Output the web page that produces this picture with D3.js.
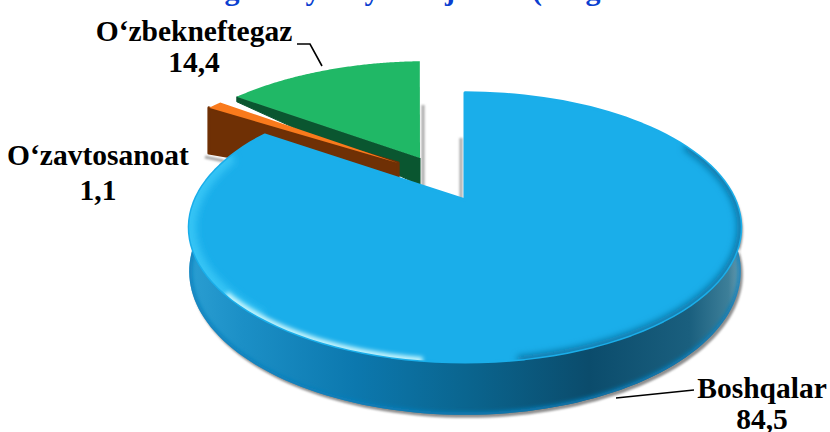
<!DOCTYPE html>
<html>
<head>
<meta charset="utf-8">
<script src="https://cdn.jsdelivr.net/npm/d3@7"></script>
<style>
  html, body { margin: 0; padding: 0; background: #fff; }
  text { font-family: "Liberation Serif", serif; font-weight: bold; fill: #000; }
</style>
</head>
<body>
<div id="chart"></div>
<script>
// data
const names = ["Boshqalar", "O‘zavtosanoat", "O‘zbekneftegaz"];
const shares = [84.5, 1.1, 14.4];
const shareLabels = ["84,5", "1,1", "14,4"];
// only the descenders of the title survive at the top edge of the picture
const titleGlyphs = ["g", "y", "y", "j", "(", "g"];

const width = 830, height = 432;

// per slice layout: shift out of the pie, small turn, radius, wall depth at rim and apex
const shiftX = [0, -0.263, -0.1785];
const shiftY = [0, 0.305, 0.349];
const turn = [0, -0.037, -0.035];
const radius = [1, 1, 1.03];
const wallRim = [42, 53, 6];
const wallApex = [42, 24, 29];
const wallStroke = [0, 3, 1];
const topColors = ["#1aaeea", "#f97a1c", "#20b866"];
const sideColors = ["url(#blueSide)", "#6f3005", "#0a5630"];

// perspective of the pie plane
const cx = 465, cy = 200, sx = 270, sy = 129, persp = 0.204;

const svg = d3.select("#chart").append("svg")
    .attr("width", width).attr("height", height)
    .style("display", "block");

const defs = svg.append("defs");
const grad = defs.append("linearGradient").attr("id", "blueSide")
    .attr("gradientUnits", "userSpaceOnUse")
    .attr("x1", 188).attr("x2", 745).attr("y1", 0).attr("y2", 0);
[[0, "#2a9ed2"], [0.1, "#1b8fc6"], [0.3, "#0c78ae"], [0.5, "#0a658f"], [0.72, "#0b4c6c"], [0.9, "#1a5f7e"], [0.97, "#3d7f99"], [1, "#7fa9b9"]]
    .forEach(s => grad.append("stop").attr("offset", s[0]).attr("stop-color", s[1]));

[["blur3", 3.5], ["blur2", 2], ["blur1", 1.2]].forEach(f => {
    defs.append("filter").attr("id", f[0])
        .attr("filterUnits", "userSpaceOnUse")
        .attr("x", 0).attr("y", 0).attr("width", width).attr("height", height)
        .append("feGaussianBlur").attr("stdDeviation", f[1]);
});

// plane coords -> screen; z is the height below the top surface
function project(x, y, z) {
    const w = 1 + persp * y;
    return [cx + sx * x / w, cy - sy * y / w + z / w];
}

const line = d3.line();
function rimPoint(i, a, z) {
    const t = a + turn[i];
    return project(shiftX[i] + radius[i] * Math.sin(t), shiftY[i] + radius[i] * Math.cos(t), z);
}
function apexPoint(i, z) {
    return project(shiftX[i], shiftY[i], z);
}
function rimArc(i, a0, a1, z) {
    return d3.range(0, 121).map(k => rimPoint(i, a0 + (a1 - a0) * k / 120, z));
}
function topPath(d, i) {
    return line([apexPoint(i, 0), ...rimArc(i, d.startAngle, d.endAngle, 0)]) + "Z";
}
// wall along the radius that faces the viewer on the small slices
function radialWall(d, i) {
    const a = d.startAngle;
    return line([apexPoint(i, 0), rimPoint(i, a, 0), rimPoint(i, a, wallRim[i]), apexPoint(i, wallApex[i])]) + "Z";
}
function outerWall(i, a0, a1) {
    return line([...rimArc(i, a0, a1, 0), ...rimArc(i, a1, a0, wallRim[i])]) + "Z";
}

const arcs = d3.pie().sort(null).value(v => v)
    .startAngle(0).endAngle(2 * Math.PI)(shares);
const blue = arcs[0];
const wallStart = Math.PI * 0.42, wallEnd = Math.PI * 1.6;

// grey shadow under the big slice and behind the gap
const shadow = svg.append("g").attr("filter", "url(#blur1)");
shadow.append("path")
    .attr("d", outerWall(0, wallStart, wallEnd))
    .attr("transform", "translate(2,3)")
    .attr("fill", "#8f8f8f");
const gapEdges = [[423, 105, 423, 187], [461, 138, 461, 199], [205, 157, 224, 161]];
shadow.selectAll("line").data(gapEdges).join("line")
    .attr("x1", d => d[0]).attr("y1", d => d[1]).attr("x2", d => d[2]).attr("y2", d => d[3])
    .attr("stroke", "#a8a8a8").attr("stroke-width", 3);

// green before orange: the orange slice sits over the green wall, big slice covers both
[2, 1].forEach(i => {
    const d = arcs[i];
    svg.append("path").attr("d", radialWall(d, i)).attr("fill", sideColors[i])
        .attr("stroke", sideColors[i]).attr("stroke-linejoin", "round").attr("stroke-width", wallStroke[i]);
    svg.append("path").attr("d", topPath(d, i)).attr("fill", topColors[i]);
});

// big slice: wall, top, then soft bevels along the rim
svg.append("path").attr("d", outerWall(0, wallStart, wallEnd)).attr("fill", "url(#blueSide)");
defs.append("clipPath").attr("id", "wallClip").append("path").attr("d", outerWall(0, wallStart, wallEnd));
svg.append("g").attr("clip-path", "url(#wallClip)")
    .append("path")
    .attr("d", line(rimArc(0, wallStart, wallEnd, wallRim[0])))
    .attr("fill", "none").attr("stroke", "#0a7fbb").attr("stroke-width", 5)
    .attr("filter", "url(#blur2)");

svg.append("path").attr("d", topPath(blue, 0))
    .attr("fill", topColors[0]).attr("stroke", topColors[0]).attr("stroke-width", 3).attr("stroke-linejoin", "round");
defs.append("clipPath").attr("id", "blueTop").append("path").attr("d", topPath(blue, 0));
const bevel = svg.append("g").attr("clip-path", "url(#blueTop)");
bevel.append("path")
    .attr("d", line(rimArc(0, Math.PI * 0.35, Math.PI * 0.95, 0)))
    .attr("fill", "none").attr("stroke", "#0c6f9f").attr("stroke-width", 7)
    .attr("filter", "url(#blur3)");
bevel.append("path")
    .attr("d", line(rimArc(0, Math.PI * 1.22, Math.PI * 1.62, 0)))
    .attr("fill", "none").attr("stroke", "#35c4f5").attr("stroke-width", 14)
    .attr("filter", "url(#blur3)");
bevel.append("path")
    .attr("d", line(rimArc(0, Math.PI * 1.04, Math.PI * 1.28, 0)))
    .attr("fill", "none").attr("stroke", "#c5f5fd").attr("stroke-width", 7)
    .attr("filter", "url(#blur2)");

// title remains
const titleX = [232, 313, 372, 450, 537, 593];
svg.selectAll("text.title").data(titleGlyphs).join("text")
    .attr("class", "title")
    .attr("x", (d, i) => titleX[i]).attr("y", 0)
    .attr("text-anchor", "middle").attr("font-size", 30)
    .style("fill", "#0b3fd0").text(d => d);

// labels
const labelPos = [[762, 398, 762, 429], [98, 165, 98, 200], [194, 41, 194, 72]];
const labels = svg.append("g").attr("font-size", 29.5).attr("text-anchor", "middle");
names.forEach((n, i) => {
    labels.append("text").attr("x", labelPos[i][0]).attr("y", labelPos[i][1]).text(n);
    labels.append("text").attr("x", labelPos[i][2]).attr("y", labelPos[i][3]).text(shareLabels[i]);
});

// leader lines
const leaders = [[[616, 398], [694, 390]], [[297, 44], [310, 44], [322, 66]]];
svg.selectAll("path.leader").data(leaders).join("path")
    .attr("class", "leader").attr("d", d => line(d))
    .attr("fill", "none").attr("stroke", "#000").attr("stroke-width", 1.6);
</script>
</body>
</html>
